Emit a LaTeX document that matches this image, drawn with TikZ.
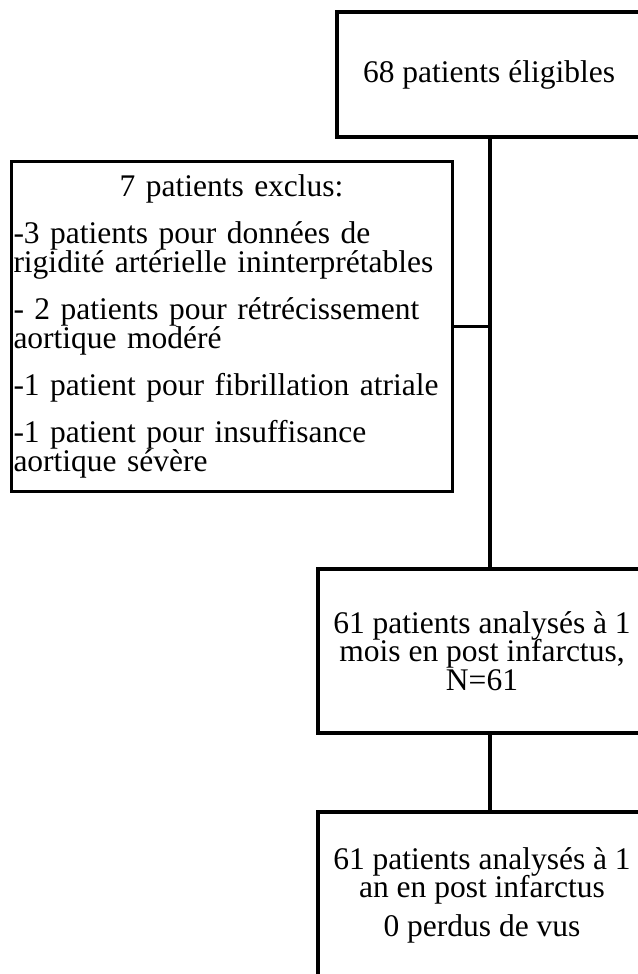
\documentclass[tikz,border=0pt]{standalone}
\usepackage{fontspec}
\setmainfont{Liberation Serif}
\newfontfamily\chartfont{Liberation Serif}
\begin{document}
\begin{tikzpicture}[x=1pt,y=-1pt,
  box/.style={draw=black, line width=4pt, rectangle, inner sep=0pt, align=center,
    font=\chartfont\fontsize{31.5}{28.5}\selectfont,
    execute at begin node={\baselineskip=28.5pt\lineskiplimit=-10pt}},
  sidebox/.style={draw=black, line width=3pt, rectangle, inner xsep=2.5pt, inner ysep=0pt,
    align=left, text width=436pt, font=\chartfont\fontsize{31.5}{29}\selectfont,
    execute at begin node={\baselineskip=29pt\lineskiplimit=-10pt}},
  link/.style={draw=black, line width=4pt},
  sidelink/.style={draw=black, line width=3pt}]
\useasboundingbox (0,0) rectangle (637,974);

% stages of the study
\node[box, minimum width=304pt, minimum height=125pt] (elig) at (489,74.5)
  {68 patients éligibles};
\node[box, minimum width=328pt, minimum height=164pt] (month) at (482,651)
  {61 patients analysés à 1\\mois en post infarctus,\\N=61};
\node[box, minimum width=328pt, minimum height=166pt] (year) at (482,895)
  {61 patients analysés à 1\\an en post infarctus\\[10pt]0 perdus de vus};

% exclusions
\node[sidebox, minimum height=330pt] (excl) at (231.5,326)
  {\hfill 7 patients exclus:\hfill\null\\[18pt]
   -3 patients pour données de\\
   rigidité artérielle ininterprétables\\[18pt]
   - 2 patients pour rétrécissement\\
   aortique modéré\\[18pt]
   -1 patient pour fibrillation atriale\\[18pt]
   -1 patient pour insuffisance\\
   aortique sévère};

% connectors
\coordinate (trunk) at ([xshift=1pt]elig.south);
\draw[link] (trunk) -- (trunk |- month.north);
\draw[sidelink] (excl.east) -- (excl.east -| trunk);
\draw[link] (month.south -| trunk) -- (year.north -| trunk);
\end{tikzpicture}
\end{document}
